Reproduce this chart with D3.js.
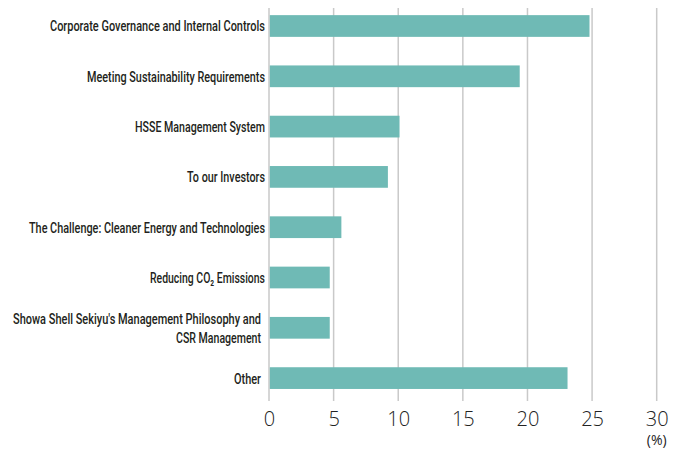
<!DOCTYPE html>
<html><head><meta charset="utf-8">
<script src="https://cdn.jsdelivr.net/npm/d3@7"></script>
<style>body{margin:0;background:#fff}</style>
</head><body>
<svg id="c" width="675" height="450"></svg>
<script>
const categories = [
  ["Corporate Governance and Internal Controls"],
  ["Meeting Sustainability Requirements"],
  ["HSSE Management System"],
  ["To our Investors"],
  ["The Challenge: Cleaner Energy and Technologies"],
  ["Reducing CO\u2082 Emissions"],
  ["Showa Shell Sekiyu's Management Philosophy and", "CSR Management"],
  ["Other"]
];
const values = [24.8, 19.4, 10.1, 9.2, 5.6, 4.7, 4.7, 23.1];
const tickValues = [0, 5, 10, 15, 20, 25, 30];
const unitLabel = "(%)";
// label widths as printed in the reference (px)
const labelWidths = [[215], [178], [130], [78], [236], [115], [248, 85], [27]];

const svg = d3.select("#c");
const x = d3.scaleLinear().domain([0, 30]).range([269, 656.7]);
const y = d3.scaleBand().domain(d3.range(categories.length)).range([0.85, 403.25])
  .paddingInner(0.568).paddingOuter(0.284);

// grid
svg.append("g").selectAll("line").data(tickValues).join("line")
  .attr("x1", d => x(d)).attr("x2", d => x(d))
  .attr("y1", 8).attr("y2", 401)
  .attr("stroke", "#c9c9c9").attr("stroke-width", 1.5);

// bars
svg.append("g").selectAll("rect").data(values).join("rect")
  .attr("x", x(0) + 0.8).attr("y", (d, i) => y(i))
  .attr("width", d => x(d) - x(0) - 0.8).attr("height", y.bandwidth())
  .attr("fill", "#6fbab5");

// x axis labels
const xAxis = d3.axisBottom(x).tickValues(tickValues).tickSize(0).tickPadding(0);
const gx = svg.append("g").attr("transform", "translate(0,405)").call(xAxis);
gx.select(".domain").remove();
gx.selectAll("text").attr("font-family", "'Open Sans', sans-serif").attr("font-weight", 300)
  .attr("font-size", 20).attr("fill", "#222").attr("y", 20.5).attr("dy", 0);

svg.append("text").attr("x", x(30)).attr("y", 445).attr("text-anchor", "middle")
  .attr("font-family", "'Open Sans', sans-serif").attr("font-weight", 400)
  .attr("font-size", 14).attr("fill", "#222").text(unitLabel);

// category labels
const rows = [];
categories.forEach((lines, i) => {
  const n = lines.length;
  lines.forEach((s, k) => rows.push({ s, i, k, n, w: labelWidths[i][k] }));
});
svg.append("g").selectAll("text").data(rows).join("text")
  .attr("text-anchor", "end")
  .attr("font-family", "Roboto, sans-serif").attr("font-weight", 500)
  .attr("font-size", 15).attr("fill", "#231f20")
  .attr("x", d => (d.n > 1 || d.i === categories.length - 1) ? 261 : 265)
  .attr("y", d => y(d.i) + y.bandwidth() / 2 + (d.k - (d.n - 1) / 2) * 19 + 5.4)
  .attr("textLength", d => d.w).attr("lengthAdjust", "spacingAndGlyphs")
  .text(d => d.s);
</script>
</body></html>
